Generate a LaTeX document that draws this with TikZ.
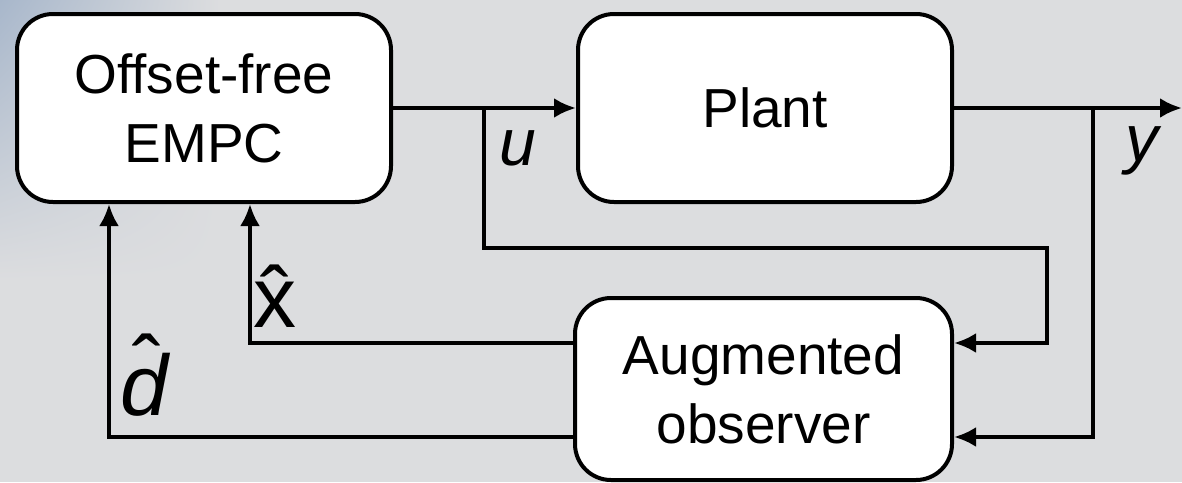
\documentclass[tikz,border=0pt]{standalone}
\usepackage{fontspec}
\setmainfont{Liberation Sans}
\usetikzlibrary{arrows.meta,calc,shadings}
\definecolor{bggray}{RGB}{220,221,223}
\definecolor{bgblue}{RGB}{168,183,203}
\tikzset{
  blockbox/.style={draw=black, line width=4pt, fill=white, rounded corners=36pt,
    align=center, font=\fontsize{55}{69}\selectfont, inner sep=0pt},
  wire/.style={draw=black, line width=4pt},
  arr/.style={wire, -{Latex[length=22pt,width=20pt]}},
  siglabel/.style={font=\fontsize{66}{70}\selectfont\itshape, inner sep=0pt},
  biglabel/.style={font=\fontsize{86}{90}\selectfont, inner sep=0pt},
}
\begin{document}
\begin{tikzpicture}[x=1pt,y=-1pt]
  \useasboundingbox (0,0) rectangle (1182,482);
  \fill[bggray] (0,0) rectangle (1182,482);
  \shade[upper left=bgblue, upper right=bggray, lower left=bggray, lower right=bggray]
    (0,0) rectangle (220,280);

  \node[blockbox, minimum width=374pt, minimum height=188pt] (mpc) at (204,108) {Offset-free\\EMPC};
  \node[blockbox, minimum width=374pt, minimum height=188pt] (plant) at (765,108) {Plant};
  \node[blockbox, minimum width=377pt, minimum height=182pt] (obs) at (763.5,389) {Augmented\\observer};

  \coordinate (ub) at (484,108);
  \coordinate (uc) at (1047,248);
  \coordinate (yb) at (1093,108);
  \coordinate (yout) at (1182,108);
  \coordinate (in1) at (952,343);
  \coordinate (in2) at (952,437);
  \coordinate (xh) at (250,343);
  \coordinate (dh) at (109,437);

  \draw[arr] (mpc.east) -- (plant.west);
  \draw[arr] (plant.east) -- (yout);
  \draw[arr] (ub) |- (uc) |- (obs.east |- in1);
  \draw[arr] (yb) |- (obs.east |- in2);
  \draw[arr] (obs.west |- in1) -- (xh) -- (xh |- mpc.south);
  \draw[arr] (obs.west |- in2) -- (dh) -- (dh |- mpc.south);

  \node[siglabel, anchor=base west] (lu) at (499,165) {u};
  \node[siglabel, anchor=base west] (ly) at (1125,161) {y};
  \node[biglabel, anchor=base west] (lx) at (253,327) {x̂};
  \node[biglabel, anchor=base west, font=\fontsize{86}{90}\selectfont\itshape] (ld) at (120,415)
    {\rlap{\kern12pt\raisebox{19pt}{\upshape ˆ}}d};
\end{tikzpicture}
\end{document}
